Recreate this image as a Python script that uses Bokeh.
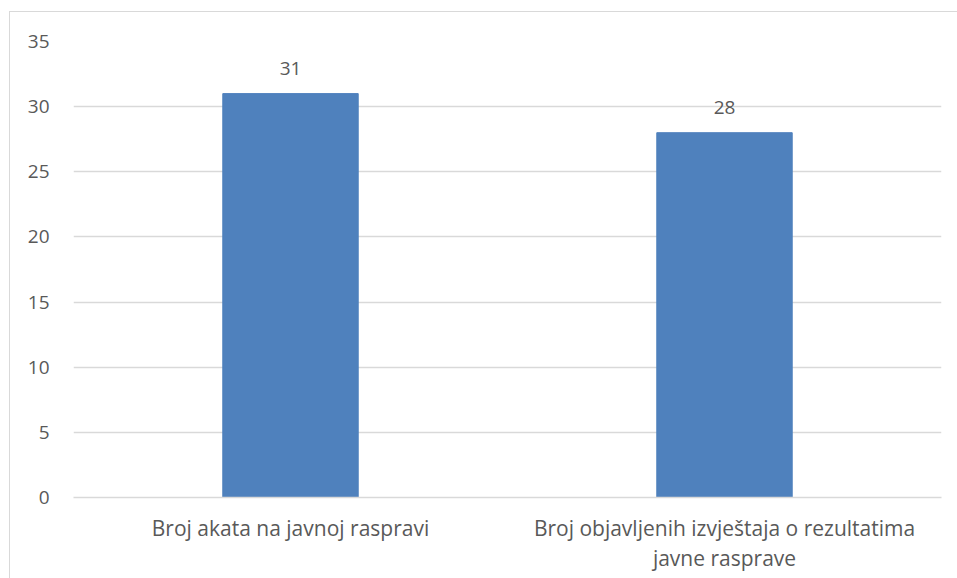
from bokeh.plotting import figure
from bokeh.models import ColumnDataSource, LabelSet, FactorRange, Range1d, FixedTicker
from bokeh.core.properties import value
from bokeh.embed import file_html
from bokeh.resources import INLINE

categories = ["Broj akata na javnoj raspravi",
              "Broj objavljenih izvještaja o rezultatima\njavne rasprave"]
values = [31, 28]
value_labels = ["31", "28"]
y_ticks = [0, 5, 10, 15, 20, 25, 30, 35]

FONT = "Open Sans"
TXT = "#595959"

src = ColumnDataSource(dict(cat=categories, val=values, lab=value_labels))

p = figure(width=948, height=567, x_range=FactorRange(*categories),
           y_range=Range1d(0, 35), output_backend="svg", toolbar_location=None,
           min_border_left=63, min_border_right=17, min_border_top=29,
           min_border_bottom=82)
p.styles = {"margin-left": "9px", "margin-top": "11px",
            "border-left": "1px solid #d9d9d9", "border-top": "1px solid #d9d9d9",
            "box-sizing": "border-box"}

p.vbar(x="cat", top="val", width=0.312, source=src, color="#4F81BD")

labels = LabelSet(x="cat", y="val", text="lab", source=src, y_offset=19,
                  text_align="center", text_baseline="alphabetic",
                  text_font=value(FONT), text_font_size="19px", text_color=TXT)
p.add_layout(labels)

p.outline_line_color = None
p.xgrid.grid_line_color = None
p.ygrid.grid_line_color = "#D9D9D9"
p.ygrid.grid_line_width = 1.3

p.yaxis.ticker = FixedTicker(ticks=y_ticks)
p.yaxis.axis_line_color = None
p.yaxis.major_tick_line_color = None
p.yaxis.minor_tick_line_color = None
p.yaxis.major_label_standoff = 18
p.yaxis.major_label_text_font = FONT
p.yaxis.major_label_text_font_size = "19px"
p.yaxis.major_label_text_color = TXT

p.xaxis.axis_line_color = "#D9D9D9"
p.xaxis.axis_line_width = 1.3
p.xaxis.major_tick_line_color = None
p.xaxis.major_label_standoff = 10
p.xaxis.major_label_text_font = FONT
p.xaxis.major_label_text_font_size = "21px"
p.xaxis.major_label_text_color = TXT
p.xaxis.major_label_text_line_height = 1.08

open("out.html", "w").write(file_html(p, INLINE))
